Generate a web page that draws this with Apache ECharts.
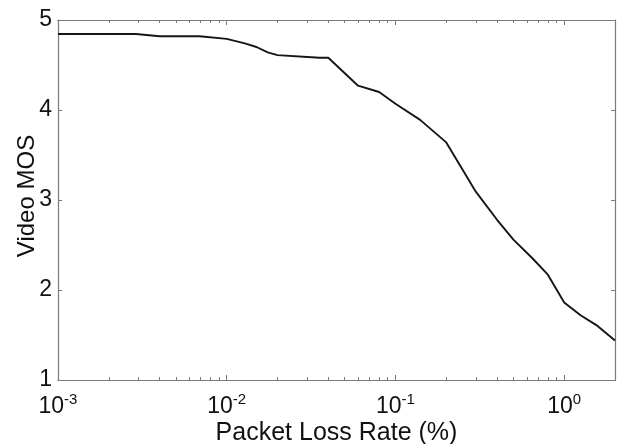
<!DOCTYPE html>
<html>
<head>
<meta charset="utf-8">
<script src="https://cdn.jsdelivr.net/npm/echarts@6/dist/echarts.min.js"></script>
<style>
html,body{margin:0;padding:0;background:#fff;}
#c{width:631px;height:444px;}
</style>
</head>
<body>
<div id="c"></div>
<script>
// Packet loss rate (%)
var lossRate = [0.001, 0.0029, 0.004, 0.0069, 0.01, 0.0128, 0.015, 0.0175, 0.02, 0.0355, 0.04, 0.06, 0.08, 0.1, 0.14, 0.2, 0.3, 0.4, 0.5, 0.65, 0.8, 1.0, 1.25, 1.55, 2.0];
// Video MOS
var videoMOS = [4.844, 4.844, 4.82, 4.82, 4.79, 4.74, 4.70, 4.64, 4.61, 4.58, 4.58, 4.27, 4.20, 4.07, 3.89, 3.64, 3.09, 2.78, 2.56, 2.35, 2.17, 1.86, 1.72, 1.61, 1.44];
// Axis ticks
var xMajorTicks = [0.001, 0.01, 0.1, 1];
var xMinorTicks = [0.002,0.003,0.004,0.005,0.006,0.007,0.008,0.009,
                   0.02,0.03,0.04,0.05,0.06,0.07,0.08,0.09,
                   0.2,0.3,0.4,0.5,0.6,0.7,0.8,0.9,
                   2];
var yTicks = [1, 2, 3, 4, 5];

var FONT = '"Liberation Sans", Arial, sans-serif';
var AXIS_COLOR = '#7a7a7a';

var data = lossRate.map(function (x, i) { return [x, videoMOS[i]]; });

function xAxisDef(pos, ticks, len, labels) {
  return {
    type: 'log', logBase: 10, min: 0.001, max: 2, position: pos, gridIndex: 0,
    axisLine: { show: true, onZero: false, lineStyle: { color: AXIS_COLOR, width: 1.2 } },
    axisTick: { show: true, inside: true, length: len, customValues: ticks, lineStyle: { color: AXIS_COLOR, width: 1 } },
    minorTick: { show: false },
    splitLine: { show: false },
    axisLabel: labels ? {
      show: true, margin: 12, customValues: xMajorTicks,
      formatter: function (v) {
        var e = Math.round(Math.log10(v));
        return '{b|10}{s|' + e + '}';
      },
      rich: {
        b: { fontFamily: FONT, fontSize: 23, color: '#111', verticalAlign: 'bottom', lineHeight: 26 },
        s: { fontFamily: FONT, fontSize: 15, color: '#111', verticalAlign: 'top', lineHeight: 26 }
      }
    } : { show: false },
    name: labels ? 'Packet Loss Rate (%)' : '',
    nameLocation: 'middle', nameGap: 41, nameMoveOverlap: false,
    nameTextStyle: { fontFamily: FONT, fontSize: 25, color: '#111' }
  };
}

function yAxisDef(pos, labels) {
  return {
    type: 'value', min: 1, max: 5, interval: 1, position: pos, gridIndex: 0,
    axisLine: { show: true, onZero: false, lineStyle: { color: AXIS_COLOR, width: 1.2 } },
    axisTick: { show: true, inside: true, length: 4, lineStyle: { color: AXIS_COLOR, width: 1 } },
    splitLine: { show: false },
    axisLabel: labels ? {
      show: true, margin: 6, fontFamily: FONT, fontSize: 23, color: '#111',
      formatter: function (v) { return yTicks.indexOf(v) >= 0 ? String(v) : ''; }
    } : { show: false },
    name: labels ? 'Video MOS' : '',
    nameLocation: 'middle', nameGap: 19, nameMoveOverlap: false,
    nameTextStyle: { fontFamily: FONT, fontSize: 24, color: '#111', padding: [0, 0, 0, 8] }
  };
}

var chart = echarts.init(document.getElementById('c'), null, { renderer: 'canvas' });
chart.setOption({
  backgroundColor: '#fff',
  animation: false,
  grid: { left: 58, right: 16, top: 20, bottom: 64, containLabel: false, outerBoundsMode: 'none' },
  xAxis: [
    xAxisDef('bottom', xMajorTicks, 5, true),
    xAxisDef('bottom', xMinorTicks, 3, false),
    xAxisDef('top', xMajorTicks, 5, false),
    xAxisDef('top', xMinorTicks, 3, false)
  ],
  yAxis: [
    yAxisDef('left', true),
    yAxisDef('right', false)
  ],
  series: [{
    type: 'line', xAxisIndex: 0, yAxisIndex: 0,
    data: data, showSymbol: false, symbol: 'none',
    lineStyle: { color: '#151515', width: 1.9 },
    smooth: false
  }]
});
</script>
</body>
</html>
